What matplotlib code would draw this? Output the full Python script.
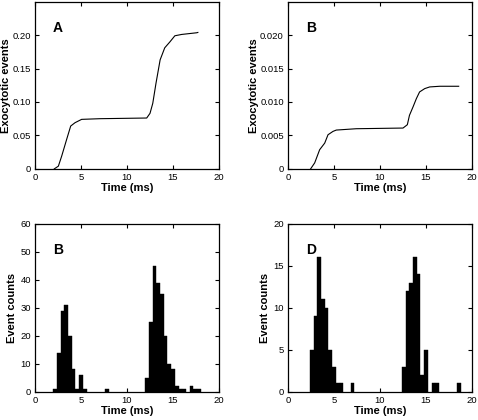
import matplotlib
matplotlib.use("Agg")
import matplotlib.pyplot as plt

plt.rcParams['font.family'] = ['Liberation Sans', 'DejaVu Sans']

# Panel A cumulative curve
a_t = [2.1, 2.54, 2.9, 3.44, 3.88, 4.35, 5.07, 7.07, 12.14, 12.5, 12.8, 13.15, 13.6, 14.1, 14.67, 15.2, 15.94, 17.57, 17.7]
a_y = [0.0, 0.004, 0.019, 0.044, 0.064, 0.069, 0.074, 0.075, 0.076, 0.083, 0.098, 0.128, 0.163, 0.181, 0.19, 0.199, 0.201, 0.2035, 0.204]

# Panel B cumulative curve
b_t = [2.46, 2.9, 3.44, 3.99, 4.35, 4.89, 5.25, 7.43, 12.5, 12.97, 13.2, 13.6, 13.95, 14.3, 14.86, 15.4, 16.5, 18.55]
b_y = [0.0, 0.00089, 0.00286, 0.00385, 0.0051, 0.0056, 0.0058, 0.006, 0.0061, 0.0066, 0.008, 0.0093, 0.0105, 0.0115, 0.012, 0.01225, 0.01235, 0.01235]

# Histogram (bin width 0.4 ms) - left panel
h1_bins = [2.0, 2.4, 2.8, 3.2, 3.6, 4.0, 4.4, 4.8, 5.2, 7.6,
           12.0, 12.4, 12.8, 13.2, 13.6, 14.0, 14.4, 14.8, 15.2, 15.6, 16.0, 16.8, 17.2, 17.6]
h1_counts = [1, 14, 29, 31, 20, 8, 1, 6, 1, 1,
             5, 25, 45, 39, 35, 20, 10, 8, 2, 1, 1, 2, 1, 1]

# Histogram - right panel
h2_bins = [2.4, 2.8, 3.2, 3.6, 4.0, 4.4, 4.8, 5.2, 5.6, 6.8,
           12.4, 12.8, 13.2, 13.6, 14.0, 14.4, 14.8, 15.6, 16.0, 18.4]
h2_counts = [5, 9, 16, 11, 10, 5, 3, 1, 1, 1,
             3, 12, 13, 16, 14, 2, 5, 1, 1, 1]
bin_w = 0.4

fig = plt.figure(figsize=(4.78, 4.2), dpi=100)
W, H = 0.385, 0.398
axA = fig.add_axes([0.0732, 0.598, W, H])
axB = fig.add_axes([0.6025, 0.598, W, H])
axC = fig.add_axes([0.0732, 0.067, W, 0.400])
axD = fig.add_axes([0.6025, 0.067, W, 0.400])

lab_fs = 8.0
tick_fs = 6.8

def style(ax):
    ax.set_xlim(0, 20)
    ax.set_xticks([0, 5, 10, 15, 20])
    ax.tick_params(direction='in', top=True, right=True, labelsize=tick_fs,
                   length=3, width=0.8, pad=3)
    for s in ax.spines.values():
        s.set_linewidth(0.9)
    ax.set_xlabel('Time (ms)', fontsize=lab_fs, fontweight='bold', labelpad=1)

axA.plot(a_t, a_y, color='black', lw=0.8)
style(axA)
axA.set_ylim(0, 0.25)
axA.set_yticks([0, 0.05, 0.10, 0.15, 0.20])
axA.set_yticklabels(['0', '0.05', '0.10', '0.15', '0.20'])
axA.set_ylabel('Exocytotic events', fontsize=lab_fs, fontweight='bold', labelpad=1)
axA.text(2.5, 0.21, 'A', fontsize=10, fontweight='bold', ha='center', va='center')

axB.plot(b_t, b_y, color='black', lw=0.8)
style(axB)
axB.set_ylim(0, 0.025)
axB.set_yticks([0, 0.005, 0.010, 0.015, 0.020])
axB.set_yticklabels(['0', '0.005', '0.010', '0.015', '0.020'])
axB.set_ylabel('Exocytotic events', fontsize=lab_fs, fontweight='bold', labelpad=1)
axB.text(2.5, 0.021, 'B', fontsize=10, fontweight='bold', ha='center', va='center')

axC.bar(h1_bins, h1_counts, width=bin_w, align='edge', color='black', edgecolor='black', linewidth=0.3)
style(axC)
axC.set_ylim(0, 60)
axC.set_yticks([0, 10, 20, 30, 40, 50, 60])
axC.set_ylabel('Event counts', fontsize=lab_fs, fontweight='bold', labelpad=2)
axC.text(2.5, 50.7, 'B', fontsize=10, fontweight='bold', ha='center', va='center')

axD.bar(h2_bins, h2_counts, width=bin_w, align='edge', color='black', edgecolor='black', linewidth=0.3)
style(axD)
axD.set_ylim(0, 20)
axD.set_yticks([0, 5, 10, 15, 20])
axD.set_ylabel('Event counts', fontsize=lab_fs, fontweight='bold', labelpad=2)
axD.text(2.5, 16.9, 'D', fontsize=10, fontweight='bold', ha='center', va='center')

fig.savefig('out.png', dpi=100)
